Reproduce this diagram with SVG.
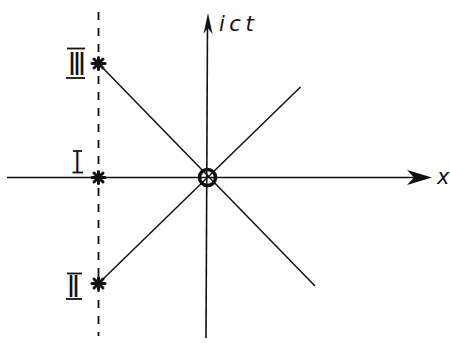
<svg xmlns="http://www.w3.org/2000/svg" width="450" height="343" viewBox="0 0 450 343">
<style>
.ax{stroke:#111;stroke-width:1.6;fill:none}
.ln{stroke:#111;stroke-width:1.5;fill:none}
.dash{stroke:#111;stroke-width:1.8;stroke-dasharray:8 8;fill:none}
.bar{stroke:#111;stroke-width:1.8}
.num{font-family:"Liberation Sans",sans-serif;font-weight:bold;fill:#111}
.lab{font-family:"DejaVu Sans",sans-serif;font-style:italic;fill:#111;font-size:21px}
.star{stroke:#111;stroke-width:3;stroke-linecap:round}
</style>
<defs>
<g id="star" class="star">
<line x1="-6.5" y1="0" x2="6.5" y2="0"/>
<line x1="0" y1="-6" x2="0" y2="6"/>
<line x1="-4.5" y1="-4.5" x2="4.5" y2="4.5"/>
<line x1="-4.5" y1="4.5" x2="4.5" y2="-4.5"/>
</g>
</defs>
<g id="connectors">
<line class="dash" x1="98.5" y1="12" x2="98.5" y2="336"/>
<line class="ax" x1="7" y1="177.5" x2="416" y2="177.5"/>
<path d="M432,177.5 L407,170 L414,177.5 L407,185 Z" fill="#111"/>
<line class="ax" x1="207.5" y1="22" x2="206" y2="338"/>
<path d="M208,13 L203.5,34 L207.8,28 L212.5,34 Z" fill="#111"/>
<line class="ln" x1="98.5" y1="63.5" x2="315" y2="286"/>
<line class="ln" x1="98.5" y1="283.5" x2="300.5" y2="87"/>
</g>
<g id="origin">
<circle cx="207.5" cy="177.5" r="8" fill="none" stroke="#111" stroke-width="3.5"/>
</g>
<g id="node-III">
<use href="#star" x="98.5" y="63.5"/>
<line class="bar" x1="67" y1="48.5" x2="85" y2="48.5"/>
<line class="bar" x1="66" y1="78" x2="85" y2="78"/>
<text class="num" x="69.5" y="75" font-size="34" textLength="15" lengthAdjust="spacingAndGlyphs">III</text>
</g>
<g id="node-I">
<use href="#star" x="98.5" y="177.5"/>
<line class="bar" x1="73" y1="151" x2="82" y2="151"/>
<line class="bar" x1="72.5" y1="172.5" x2="83" y2="172.5"/>
<text class="num" x="75.3" y="172" font-size="29" textLength="4" lengthAdjust="spacingAndGlyphs">I</text>
</g>
<g id="node-II">
<use href="#star" x="98.5" y="283.5"/>
<line class="bar" x1="67" y1="273.5" x2="82" y2="273.5"/>
<line class="bar" x1="66" y1="299" x2="82" y2="299"/>
<text class="num" x="68.5" y="297" font-size="32" textLength="10" lengthAdjust="spacingAndGlyphs">II</text>
</g>
<g id="labels">
<text class="lab" x="219" y="31" letter-spacing="4.5">ict</text>
<text class="lab" x="437" y="184">x</text>
</g>
</svg>
